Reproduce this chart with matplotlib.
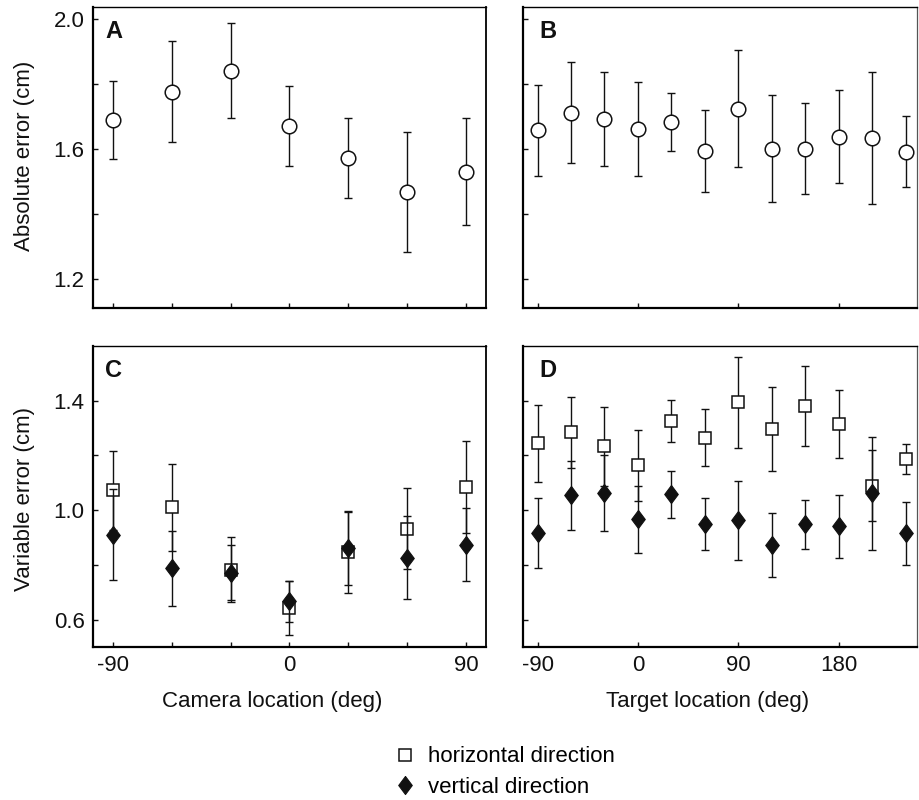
import matplotlib
matplotlib.use("Agg")
import matplotlib.pyplot as plt
from matplotlib.lines import Line2D

plt.rcParams["font.family"] = ["Liberation Sans", "DejaVu Sans"]
plt.rcParams["axes.unicode_minus"] = False

# ── Data ──────────────────────────────────────────────────────────────────────
camera_deg = [-90, -60, -30, 0, 30, 60, 90]
target_deg = [-90, -60, -30, 0, 30, 60, 90, 120, 150, 180, 210, 240]

# A: absolute error vs camera location
abs_cam = [1.689, 1.776, 1.841, 1.671, 1.572, 1.468, 1.530]
abs_cam_err = [0.120, 0.156, 0.147, 0.124, 0.124, 0.184, 0.165]

# B: absolute error vs target location
abs_tgt = [1.658, 1.712, 1.692, 1.661, 1.683, 1.594, 1.724, 1.600, 1.601, 1.638, 1.634, 1.591]
abs_tgt_err = [0.140, 0.155, 0.144, 0.144, 0.090, 0.127, 0.181, 0.165, 0.139, 0.144, 0.203, 0.109]

# C: variable error vs camera location
var_cam_h = [1.073, 1.010, 0.783, 0.642, 0.847, 0.933, 1.085]
var_cam_h_err = [0.144, 0.160, 0.120, 0.099, 0.148, 0.148, 0.167]
var_cam_v = [0.911, 0.787, 0.772, 0.668, 0.862, 0.827, 0.874]
var_cam_v_err = [0.165, 0.136, 0.100, 0.075, 0.135, 0.150, 0.134]

# D: variable error vs target location
var_tgt_h = [1.244, 1.284, 1.234, 1.164, 1.325, 1.265, 1.394, 1.296, 1.382, 1.316, 1.089, 1.187]
var_tgt_h_err = [0.142, 0.131, 0.144, 0.129, 0.077, 0.103, 0.165, 0.154, 0.146, 0.124, 0.130, 0.056]
var_tgt_v = [0.915, 1.054, 1.063, 0.966, 1.059, 0.950, 0.963, 0.872, 0.948, 0.941, 1.061, 0.915]
var_tgt_v_err = [0.128, 0.125, 0.140, 0.123, 0.086, 0.094, 0.145, 0.118, 0.090, 0.114, 0.208, 0.116]

# ── Style ─────────────────────────────────────────────────────────────────────
INK = "#111111"
FS = 16
DIAMOND = [(0, 1), (0.75, 0), (0, -1), (-0.75, 0), (0, 1)]
EB = dict(fmt="none", ecolor=INK, elinewidth=1.0, capsize=2.6, capthick=1.0)

fig = plt.figure(figsize=(9.2, 8), dpi=100)
W, H = 920, 800


def add_ax(l, r, t, b):
    return fig.add_axes([l / W, 1 - b / H, (r - l) / W, (b - t) / H])


axA = add_ax(93, 486, 7, 308)
axB = add_ax(523, 917, 7, 308)
axC = add_ax(93, 486, 346, 647)
axD = add_ax(523, 917, 346, 647)

# absolute error panels
for ax, x, y, e in [(axA, camera_deg, abs_cam, abs_cam_err),
                    (axB, target_deg, abs_tgt, abs_tgt_err)]:
    ax.errorbar(x, y, yerr=e, zorder=2, **EB)
    ax.plot(x, y, ls="none", marker="o", ms=10.5, mfc="white", mec=INK,
            mew=1.1, zorder=3)
    ax.set_ylim(1.11, 2.037)
    ax.set_yticks([1.2, 1.4, 1.6, 1.8, 2.0])

# variable error panels
for ax, x, yh, eh, yv, ev in [(axC, camera_deg, var_cam_h, var_cam_h_err, var_cam_v, var_cam_v_err),
                              (axD, target_deg, var_tgt_h, var_tgt_h_err, var_tgt_v, var_tgt_v_err)]:
    ax.errorbar(x, yh, yerr=eh, zorder=2, **EB)
    ax.plot(x, yh, ls="none", marker="s", ms=8.4, mfc="white", mec=INK,
            mew=1.1, zorder=3)
    ax.errorbar(x, yv, yerr=ev, zorder=4, **EB)
    ax.plot(x, yv, ls="none", marker=DIAMOND, ms=13, mfc=INK, mec=INK,
            mew=0.8, zorder=5)
    ax.set_ylim(0.5, 1.6)
    ax.set_yticks([0.6, 0.8, 1.0, 1.2, 1.4])

for ax in (axA, axC):
    ax.set_xlim(-100, 100)
    ax.set_xticks(camera_deg)
for ax in (axB, axD):
    ax.set_xlim(-103, 250)
    ax.set_xticks([-90, 0, 90, 180])

axA.set_yticklabels(["1.2", "", "1.6", "", "2.0"])
axC.set_yticklabels(["0.6", "", "1.0", "", "1.4"])
axC.set_xticklabels(["-90", "", "", "0", "", "", "90"])
axD.set_xticklabels(["-90", "0", "90", "180"])
for ax in (axA, axB):
    ax.set_xticklabels([])
for ax in (axB, axD):
    ax.set_yticklabels([])

for ax, letter, lx in [(axA, "A", 0.031), (axB, "B", 0.041),
                       (axC, "C", 0.031), (axD, "D", 0.041)]:
    ax.text(lx, 0.958, letter, transform=ax.transAxes, ha="left", va="top",
            fontsize=17, fontweight="bold", color=INK)
    ax.tick_params(direction="in", length=3.5, width=1.0, colors=INK,
                   labelsize=FS, pad=6)
    ax.spines["left"].set_linewidth(1.6)
    ax.spines["bottom"].set_linewidth(1.6)
    ax.spines["top"].set_linewidth(1.0)
    ax.spines["right"].set_linewidth(1.3)

for ax in (axB, axD):
    ax.spines["right"].set_linewidth(0.9)
    ax.spines["right"].set_color("#555555")

# axis titles
fig.text(25 / W, 1 - 156 / H, "Absolute error (cm)", rotation=90,
         ha="center", va="center", fontsize=FS, color=INK)
fig.text(25 / W, 1 - 499 / H, "Variable error (cm)", rotation=90,
         ha="center", va="center", fontsize=FS, color=INK)
fig.text(272 / W, 1 - 702 / H, "Camera location (deg)",
         ha="center", va="center", fontsize=FS, color=INK)
fig.text(708 / W, 1 - 701 / H, "Target location (deg)",
         ha="center", va="center", fontsize=FS, color=INK)

# legend
handles = [
    Line2D([], [], ls="none", marker="s", ms=8.4, mfc="white", mec=INK, mew=1.1),
    Line2D([], [], ls="none", marker=DIAMOND, ms=13, mfc=INK, mec=INK, mew=0.8),
]
fig.legend(handles, ["horizontal direction", "vertical direction"],
           loc="center left", bbox_to_anchor=(394 / W, 1 - 772 / H),
           frameon=False, fontsize=FS, handlelength=1.0, handletextpad=0.53,
           labelspacing=0.42, borderpad=0, borderaxespad=0)

fig.savefig("out.png", dpi=100, facecolor="white")
